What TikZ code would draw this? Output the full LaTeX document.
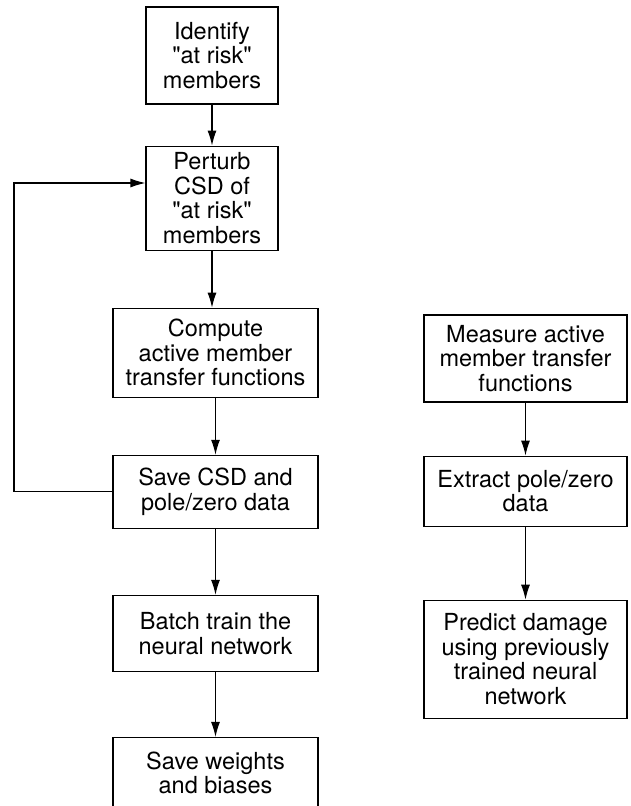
\documentclass[tikz,border=0pt]{standalone}
\usepackage{fontspec}
\setmainfont{TeX Gyre Heros}
\usepackage{tikz}
\usetikzlibrary{arrows.meta,positioning}
\tikzset{
        block/.style = {draw, rectangle, line width=1.1pt,
            inner sep=0pt, align=center,
            font=\fontsize{23.5}{24.5}\selectfont},
        narrow/.style = {block, minimum width=132pt},
        wide/.style = {block, minimum width=205pt},
        arrow/.style={draw, line width=1.1pt, -{Latex[length=15pt,width=9pt]}},
    }
\newcommand{\qt}[1]{\textquotedbl#1\textquotedbl}

\begin{document}
\begin{tikzpicture}[x=1pt,y=1pt]
    \useasboundingbox (0,0) rectangle (631,-806);

    % training side
    \node[narrow, minimum height=97pt] (ident) at (212,-55.5)
        {Identify\\\qt{at risk}\\members};
    \node[narrow, minimum height=104pt, below=41pt of ident] (perturb)
        {Perturb\\CSD of\\\qt{at risk}\\members};
    \node[wide, minimum height=89pt, below=57pt of perturb, xshift=3.5pt] (compute)
        {Compute\\active member\\transfer functions};
    \node[wide, minimum height=73pt, below=57pt of compute] (save)
        {Save CSD and\\pole/zero data};
    \node[wide, minimum height=76pt, below=66pt of save] (batch)
        {Batch train the\\neural network};
    \node[wide, minimum height=71pt, below=65pt of batch] (weights)
        {Save weights\\and biases};

    % prediction side
    \node[block, minimum width=203pt, minimum height=87pt] (measure) at (525.5,-358.5)
        {Measure active\\member transfer\\functions};
    \node[block, minimum width=203pt, minimum height=70pt, below=53pt of measure] (extract)
        {Extract pole/zero\\data};
    \node[block, minimum width=203pt, minimum height=118pt, below=73pt of extract] (predict)
        {Predict damage\\using previously\\trained neural\\network};

    \coordinate (corner) at (14,-183);

    \draw[arrow] (ident) -- (perturb);
    \draw[arrow] (perturb) -- (perturb |- compute.north);
    \draw[arrow] (compute) -- (save);
    \draw[arrow] (save) -- (batch);
    \draw[arrow] (batch) -- (weights);
    \draw[arrow] (save.west) -| (corner) -- (corner -| perturb.west);

    \draw[arrow] (measure) -- (extract);
    \draw[arrow] (extract) -- (predict);
\end{tikzpicture}
\end{document}
